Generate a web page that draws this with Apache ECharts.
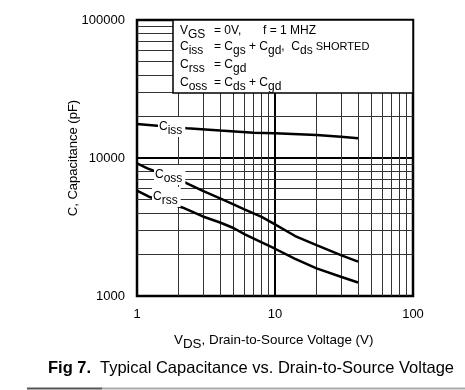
<!DOCTYPE html>
<html><head><meta charset="utf-8">
<script src="https://cdn.jsdelivr.net/npm/echarts@6/dist/echarts.min.js"></script>
<style>html,body{margin:0;padding:0;background:#fff}#c{width:465px;height:390px}</style>
</head><body><div id="c"></div>
<script>
// ---- data ----
const xTickLabels = [1, 10, 100];
const yTickLabels = [1000, 10000, 100000];
const xMinorGrid = [2, 3, 4, 5, 6, 7, 8, 9, 20, 30, 40, 50, 60, 70, 80, 90];
const yMinorGrid = [2000, 3000, 4000, 5000, 6000, 7000, 8000, 9000, 20000, 30000, 40000, 50000, 60000, 70000, 80000, 90000];

const cissV = [1, 2.3, 4, 7, 10, 20, 30, 40];
const cissC = [17600, 16400, 15800, 15250, 15100, 14680, 14260, 13900];

const cossV = [1, 1.19, 2.3, 3, 4, 5, 6, 8, 10, 14, 20, 30, 40];
const cossC = [9150, 8420, 6560, 5770, 5105, 4620, 4250, 3740, 3300, 2720, 2340, 1980, 1773];

const crssV = [1, 1.22, 2.13, 3, 4, 5, 6, 7.8, 10, 14, 20, 30, 40];
const crssC = [5810, 5240, 4380, 3770, 3410, 3110, 2810, 2480, 2200, 1855, 1587, 1380, 1253];

// ---- chart ----
const FF = '"Liberation Sans", Arial, Helvetica, sans-serif';
const chart = echarts.init(document.getElementById('c'), null, {renderer: 'canvas'});
const pair = (xs, ys) => xs.map((v, i) => [v, ys[i]]);
const gridStyle = {type: 'solid', color: '#333', width: 1};

function rt(x, y, text, extra) {
  return Object.assign({
    type: 'text', x: x, y: y, z: 110, silent: true,
    style: {
      text: text, fill: '#000', fontFamily: FF, fontSize: 12,
      verticalAlign: 'middle', align: 'left',
      rich: {
        n: {fontFamily: FF, fontSize: 12, fill: '#000'},
        s: {fontFamily: FF, fontSize: 12, fill: '#000', padding: [8, 0, 0, 0]},
        t: {fontFamily: FF, fontSize: 11, fill: '#000'}
      }
    }
  }, extra || {});
}
function lbl(x, y, text) {
  const e = rt(x, y, text);
  e.style.backgroundColor = '#fff';
  e.style.padding = [0, 3, 0, 1];
  e.z = 50;
  return e;
}

const option = {
  animation: false,
  backgroundColor: '#fff',
  grid: {left: 137, right: 52, top: 20, bottom: 94, show: true, borderColor: '#000', borderWidth: 2.5},
  xAxis: {
    type: 'log', logBase: 10, min: 1, max: 100,
    axisLine: {show: false}, axisTick: {show: false},
    axisLabel: {
      color: '#000', fontFamily: FF, fontSize: 13, margin: 12,
      showMinLabel: true, showMaxLabel: true,
      formatter: v => (xTickLabels.indexOf(Math.round(v)) >= 0 ? String(Math.round(v)) : '')
    },
    splitLine: {show: true, lineStyle: {color: '#000', width: 2}}
  },
  yAxis: {
    type: 'log', logBase: 10, min: 1000, max: 100000,
    axisLine: {show: false}, axisTick: {show: false},
    axisLabel: {
      color: '#000', fontFamily: FF, fontSize: 13, margin: 12,
      showMinLabel: true, showMaxLabel: true,
      formatter: v => (yTickLabels.indexOf(Math.round(v)) >= 0 ? String(Math.round(v)) : '')
    },
    splitLine: {show: true, lineStyle: {color: '#000', width: 2}}
  },
  series: [
    {
      type: 'line', data: [], z: 1, silent: true,
      markLine: {
        silent: true, symbol: ['none', 'none'], label: {show: false}, animation: false,
        lineStyle: gridStyle,
        data: xMinorGrid.map(v => ({xAxis: v})).concat(yMinorGrid.map(v => ({yAxis: v})))
      }
    },
    {type: 'line', data: pair(cissV, cissC), showSymbol: false, symbol: 'none', z: 5,
      lineStyle: {color: '#000', width: 2.5}},
    {type: 'line', data: pair(cossV, cossC), showSymbol: false, symbol: 'none', z: 5,
      lineStyle: {color: '#000', width: 2.5}},
    {type: 'line', data: pair(crssV, crssC), showSymbol: false, symbol: 'none', z: 5,
      lineStyle: {color: '#000', width: 2.5}}
  ],
  graphic: [
    // legend box
    {type: 'rect', z: 100, silent: true, shape: {x: 173, y: 20, width: 240, height: 73},
      style: {fill: '#fff', stroke: '#000', lineWidth: 1.5}},
    rt(180, 31, '{n|V}{s|GS}'),
    rt(214, 31, '{n|= 0V,}'),
    rt(263, 31, '{n|f = 1 MHZ}'),
    rt(180, 47, '{n|C}{s|iss}'),
    rt(214, 47, '{n|= C}{s|gs}{n| + C}{s|gd}{n|,  C}{s|ds}{t| SHORTED}'),
    rt(180, 65, '{n|C}{s|rss}'),
    rt(214, 65, '{n|= C}{s|gd}'),
    rt(180, 83, '{n|C}{s|oss}'),
    rt(214, 83, '{n|= C}{s|ds}{n| + C}{s|gd}'),
    // curve labels
    lbl(158, 127, '{n|C}{s|iss}'),
    lbl(154, 175, '{n|C}{s|oss}'),
    lbl(152, 197, '{n|C}{s|rss}'),
    // axis names
    {type: 'text', x: 174, y: 340, z: 110, silent: true,
      style: {text: '{a|V}{b|DS}{a|, Drain-to-Source Voltage (V)}', verticalAlign: 'middle', align: 'left',
        rich: {a: {fontFamily: FF, fontSize: 13.4, fill: '#000'},
               b: {fontFamily: FF, fontSize: 13.4, fill: '#000', padding: [8, 0, 0, 0]}}}},
    {type: 'text', x: 73, y: 158, rotation: Math.PI / 2, z: 110, silent: true,
      style: {text: 'C, Capacitance (pF)', fontFamily: FF, fontSize: 13, fill: '#000',
        align: 'center', verticalAlign: 'middle'}},
    // caption
    {type: 'text', x: 48, y: 368, z: 110, silent: true,
      style: {text: 'Fig 7.', fontFamily: FF, fontSize: 16.5, fontWeight: 'bold', fill: '#000',
        align: 'left', verticalAlign: 'middle'}},
    {type: 'text', x: 100, y: 368, z: 110, silent: true,
      style: {text: 'Typical Capacitance vs. Drain-to-Source Voltage', fontFamily: FF, fontSize: 16.5, fill: '#000',
        align: 'left', verticalAlign: 'middle'}},
    {type: 'line', z: 110, silent: true, shape: {x1: 102, y1: 388.5, x2: 465, y2: 388.5},
      style: {stroke: '#aaa', lineWidth: 2}},
    {type: 'line', z: 110, silent: true, shape: {x1: 27, y1: 388.5, x2: 102, y2: 388.5},
      style: {stroke: '#555', lineWidth: 2}}
  ]
};
chart.setOption(option);
</script>
</body></html>
